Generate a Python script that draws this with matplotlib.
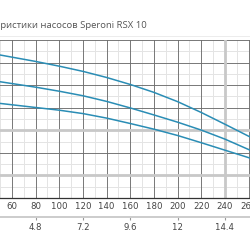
import matplotlib
matplotlib.use("Agg")
import matplotlib.pyplot as plt
from matplotlib.lines import Line2D

flow_lpm = [40, 60, 80, 100, 120, 140, 160, 180, 200, 220, 240, 260, 280]
head_a = [64.3, 62.4, 60.5, 58.4, 56.1, 53.4, 50.3, 46.8, 42.7, 37.9, 32.7, 27.4, 22.2]
head_b = [52.3, 50.7, 49.1, 47.3, 45.3, 42.8, 39.9, 36.8, 33.6, 30.1, 26.1, 21.5, 17.0]
head_c = [42.5, 41.3, 40.1, 38.9, 37.4, 35.4, 33.0, 30.5, 27.7, 24.5, 21.2, 17.9, 14.6]
x_ticks = [60, 80, 100, 120, 140, 160, 180, 200, 220, 240, 260]
m3h_ticks = [4.8, 7.2, 9.6, 12, 14.4]
title = "Характеристики насосов Speroni RSX 10"

W = 250.0
fig = plt.figure(figsize=(2.5, 2.5), dpi=100)
x0px = 12 + (40 - 60) * 1.1825
x1px = 12 + (280 - 60) * 1.1825
ax = fig.add_axes([x0px / W, 1 - 198 / W, (x1px - x0px) / W, (198 - 40) / W])
ax.set_xlim(40, 280)
ax.set_ylim(0, 70)

# grid
for v in range(50, 280, 20):
    ax.axvline(v, color="#e4e4e4", lw=0.7, zorder=0)
for v in range(5, 70, 10):
    ax.axhline(v, color="#e4e4e4", lw=0.7, zorder=0)
for v in range(40, 281, 20):
    ax.axvline(v, color="#6e6e6e", lw=0.65, zorder=1)
for v in range(10, 71, 10):
    ax.axhline(v, color="#6e6e6e", lw=0.65, zorder=1)
for v in [10, 30]:
    ax.axhline(v, color="#c8c8c8", lw=2.0, zorder=1.5)
ax.axvline(240, color="#c8c8c8", lw=2.0, zorder=1.5)

col = "#2a8db5"
for h in (head_a, head_b, head_c):
    ax.plot(flow_lpm, h, color=col, lw=1.1, zorder=3)

for s in ["left", "right", "top"]:
    ax.spines[s].set_visible(False)
ax.spines["bottom"].set_color("#333333")
ax.spines["bottom"].set_linewidth(0.9)
ax.set_yticks([])
ax.set_xticks(x_ticks)
ax.tick_params(axis="x", length=0, pad=3, labelsize=6.8, labelcolor="#444444")
for lab in ax.get_xticklabels():
    lab.set_fontstretch("condensed")

sec = ax.secondary_xaxis("bottom", functions=(lambda q: q * 0.06, lambda m: m / 0.06))
sec.spines["bottom"].set_position(("outward", 19 * 72 / 100))
sec.spines["bottom"].set_color("#cccccc")
sec.spines["bottom"].set_linewidth(1.4)
sec.set_xticks(m3h_ticks)
sec.set_xticklabels([f"{t:g}" for t in m3h_ticks])
sec.tick_params(axis="x", length=2.5, width=0.8, color="#999999", pad=2,
                labelsize=6.8, labelcolor="#444444")
for lab in sec.get_xticklabels():
    lab.set_fontstretch("condensed")

fig.add_artist(Line2D([0, 1], [1 - 36 / W, 1 - 36 / W], transform=fig.transFigure,
                      color="#ececec", lw=0.7))
fig.text(147 / W, 1 - 25.5 / W, title, ha="right", va="center",
         fontsize=6.8, color="#555555", family="Open Sans")

fig.savefig("out.png", dpi=100)
